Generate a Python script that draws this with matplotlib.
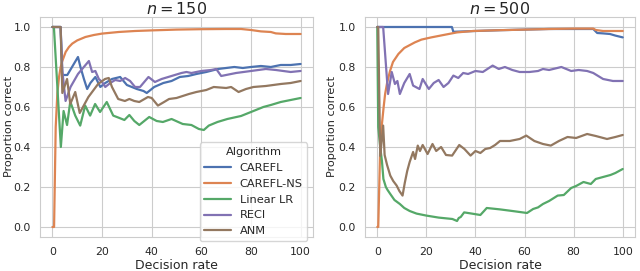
import matplotlib
matplotlib.use("Agg")
import matplotlib.pyplot as plt
import seaborn as sns

sns.set_style("whitegrid")
plt.rcParams["font.family"] = ["DejaVu Sans"]

algorithms = ["CAREFL", "CAREFL-NS", "Linear LR", "RECI", "ANM"]
colors = ["#4C72B0", "#DD8452", "#55A868", "#8172B3", "#937860"]

# ---- n = 150 ----
x_carefl_150 = [0, 3.3, 4.0, 6.0, 10.3, 11.3, 12.7, 14.0, 15.3, 17.3, 19.3, 21.3, 24.0, 27.3, 30.0, 32.0,
                34.0, 36.7, 38.0, 41.0, 44.7, 48.0, 51.3, 54.7, 58.0, 62.0, 66.7, 70.0, 73.3, 76.7, 80.0,
                84.0, 88.0, 92.0, 96.0, 100]
y_carefl_150 = [1.0, 1.0, 0.76, 0.76, 0.85, 0.80, 0.74, 0.69, 0.72, 0.75, 0.70, 0.72, 0.74, 0.75, 0.71, 0.70,
                0.69, 0.68, 0.67, 0.70, 0.72, 0.73, 0.75, 0.755, 0.765, 0.775, 0.79, 0.795, 0.80, 0.795, 0.80,
                0.805, 0.80, 0.81, 0.81, 0.815]

x_ns_150 = [0, 0.67, 1.33, 2.0, 2.67, 3.33, 4.0, 5.33, 6.67, 8.0, 10.0, 13.3, 16.7, 20.0, 26.7, 33.3, 40.0,
            50.0, 60.0, 70.0, 76.0, 80.0, 84.0, 88.0, 90.0, 94.0, 100]
y_ns_150 = [0.0, 0.0, 0.5, 0.67, 0.75, 0.80, 0.83, 0.875, 0.90, 0.917, 0.933, 0.95, 0.96, 0.967, 0.975, 0.98,
            0.983, 0.987, 0.989, 0.99, 0.99, 0.985, 0.978, 0.975, 0.968, 0.965, 0.965]

x_lin_150 = [0, 0.6, 3.4, 4.5, 5.9, 7.2, 9.2, 11.2, 13.2, 15.2, 17.2, 19.2, 21.9, 24.5, 27.0, 29.0, 31.0,
             33.0, 35.0, 37.0, 39.0, 42.0, 44.5, 48.0, 52.5, 56.0, 59.0, 61.0, 63.0, 66.5, 70.5, 76.0, 80.0,
             85.0, 88.0, 92.0, 96.0, 100]
y_lin_150 = [1.0, 1.0, 0.40, 0.58, 0.51, 0.627, 0.557, 0.507, 0.607, 0.557, 0.615, 0.575, 0.625, 0.557,
             0.545, 0.535, 0.56, 0.53, 0.51, 0.53, 0.55, 0.53, 0.525, 0.54, 0.515, 0.51, 0.49, 0.485, 0.507,
             0.525, 0.54, 0.555, 0.575, 0.60, 0.61, 0.625, 0.635, 0.645]

x_reci_150 = [0, 3.3, 4.0, 5.3, 7.3, 10.3, 14.7, 16.0, 17.3, 18.7, 20.0, 21.3, 23.3, 25.3, 27.3, 29.3, 31.3,
              33.3, 35.3, 38.7, 41.3, 44.0, 48.0, 52.0, 54.0, 56.0, 60.0, 64.0, 66.0, 68.0, 74.0, 80.0,
              86.0, 90.0, 96.0, 100]
y_reci_150 = [1.0, 1.0, 0.78, 0.63, 0.70, 0.765, 0.83, 0.775, 0.78, 0.74, 0.725, 0.70, 0.72, 0.735, 0.73,
              0.745, 0.73, 0.70, 0.70, 0.75, 0.725, 0.74, 0.755, 0.77, 0.775, 0.77, 0.78, 0.785, 0.79,
              0.755, 0.77, 0.78, 0.79, 0.785, 0.775, 0.78]

x_anm_150 = [0, 3.3, 4.0, 5.9, 7.2, 9.2, 11.0, 14.5, 18.4, 21.2, 22.7, 24.0, 26.5, 29.2, 31.0, 33.0, 35.0,
             38.5, 40.0, 42.5, 45.0, 47.0, 50.0, 55.0, 58.0, 62.0, 65.0, 70.0, 72.0, 75.0, 78.0, 81.0,
             86.0, 92.0, 96.0, 100]
y_anm_150 = [1.0, 1.0, 0.67, 0.74, 0.615, 0.675, 0.57, 0.65, 0.715, 0.74, 0.745, 0.70, 0.64, 0.63, 0.64,
             0.63, 0.625, 0.65, 0.645, 0.607, 0.625, 0.64, 0.645, 0.665, 0.675, 0.685, 0.70, 0.695, 0.70,
             0.675, 0.69, 0.70, 0.705, 0.715, 0.72, 0.73]

# ---- n = 500 ----
x_carefl_500 = [0, 30.4, 31.0, 40, 50, 60, 70, 80, 88, 89.6, 92, 94.8, 97, 100]
y_carefl_500 = [1.0, 1.0, 0.976, 0.98, 0.984, 0.987, 0.99, 0.99, 0.99, 0.97, 0.968, 0.965, 0.957, 0.948]

x_ns_500 = [0, 0.4, 1.2, 1.9, 2.6, 3.2, 4.0, 5.2, 6.4, 8.6, 11.0, 15.3, 18.0, 22.0, 27.0, 32.5, 39.0, 50.0,
            60.0, 70.0, 80.0, 88.0, 89.0, 92.0, 100]
y_ns_500 = [0.0, 0.0, 0.40, 0.515, 0.60, 0.665, 0.72, 0.78, 0.825, 0.865, 0.895, 0.923, 0.937, 0.948, 0.96,
            0.973, 0.98, 0.984, 0.987, 0.99, 0.992, 0.992, 0.985, 0.98, 0.98]

x_lin_500 = [0, 0.4, 1.2, 1.9, 2.5, 3.5, 4.2, 5.3, 7.0, 9.2, 11.0, 13.2, 16.0, 20.0, 25.0, 30.6, 32.5, 33.2,
             34.0, 35.4, 38.0, 41.0, 42.0, 43.5, 44.6, 50.0, 55.0, 61.0, 63.5, 65.5, 67.5, 70.0, 73.5,
             76.0, 79.0, 81.0, 84.0, 87.0, 89.0, 92.0, 95.0, 97.0, 100]
y_lin_500 = [1.0, 0.5, 0.40, 0.33, 0.24, 0.20, 0.185, 0.165, 0.135, 0.115, 0.095, 0.08, 0.067, 0.057, 0.047,
             0.04, 0.03, 0.045, 0.05, 0.073, 0.068, 0.062, 0.06, 0.08, 0.095, 0.088, 0.08, 0.07, 0.09,
             0.098, 0.115, 0.13, 0.157, 0.16, 0.195, 0.205, 0.225, 0.215, 0.24, 0.25, 0.26, 0.27, 0.29]

x_reci_500 = [0, 2.4, 4.4, 5.9, 7.2, 8.2, 9.2, 11.0, 13.2, 14.6, 17.2, 18.5, 21.0, 23.0, 25.0, 27.0, 29.0,
              31.0, 33.0, 35.0, 37.0, 40.0, 43.0, 47.0, 49.5, 52.0, 55.0, 58.0, 62.0, 65.5, 67.5, 70.0,
              75.0, 79.0, 82.0, 85.5, 88.0, 92.0, 96.0, 100]
y_reci_500 = [1.0, 1.0, 0.665, 0.775, 0.715, 0.73, 0.665, 0.72, 0.765, 0.707, 0.69, 0.74, 0.69, 0.72, 0.735,
              0.70, 0.72, 0.757, 0.745, 0.77, 0.765, 0.78, 0.775, 0.807, 0.79, 0.80, 0.785, 0.775, 0.775,
              0.78, 0.79, 0.785, 0.80, 0.78, 0.785, 0.78, 0.77, 0.74, 0.73, 0.73]

x_anm_500 = [0, 0.4, 1.2, 1.8, 2.4, 3.0, 4.0, 5.3, 6.5, 7.9, 9.0, 10.3, 11.2, 12.2, 13.2, 14.6, 15.4, 16.5,
             17.4, 18.5, 20.5, 22.5, 24.0, 26.0, 28.0, 30.5, 33.4, 35.5, 38.0, 40.0, 42.0, 44.0, 46.0,
             48.0, 50.0, 54.0, 58.0, 60.7, 64.0, 67.5, 70.7, 74.0, 77.5, 81.0, 85.5, 89.0, 93.6, 97.0, 100]
y_anm_500 = [1.0, 1.0, 0.355, 0.43, 0.507, 0.36, 0.31, 0.257, 0.23, 0.207, 0.18, 0.157, 0.22, 0.28, 0.325,
             0.375, 0.34, 0.407, 0.38, 0.41, 0.365, 0.415, 0.38, 0.40, 0.36, 0.357, 0.41, 0.39, 0.357, 0.38,
             0.37, 0.39, 0.395, 0.41, 0.43, 0.43, 0.44, 0.457, 0.43, 0.415, 0.407, 0.43, 0.45, 0.445, 0.465,
             0.455, 0.44, 0.45, 0.46]

panels = [
    ("$n = 150$", [(x_carefl_150, y_carefl_150), (x_ns_150, y_ns_150), (x_lin_150, y_lin_150),
                   (x_reci_150, y_reci_150), (x_anm_150, y_anm_150)]),
    ("$n = 500$", [(x_carefl_500, y_carefl_500), (x_ns_500, y_ns_500), (x_lin_500, y_lin_500),
                   (x_reci_500, y_reci_500), (x_anm_500, y_anm_500)]),
]

fig = plt.figure(figsize=(6.4, 2.71), dpi=100)
ax_pos = [[0.0625, 0.1255, 0.4266, 0.8118], [0.5703, 0.1255, 0.4219, 0.8118]]
ylabel_x = [-0.096, -0.104]

for i, (title, series) in enumerate(panels):
    ax = fig.add_axes(ax_pos[i])
    for (xs, ys), name, c in zip(series, algorithms, colors):
        ax.plot(xs, ys, color=c, lw=1.6, label=name)
    ax.set_title(title, fontsize=11.5, pad=2)
    ax.set_xlabel("Decision rate", fontsize=9, labelpad=1)
    ax.set_ylabel("Proportion correct", fontsize=8.1)
    ax.yaxis.set_label_coords(ylabel_x[i], 0.5)
    ax.set_xticks([0, 20, 40, 60, 80, 100])
    ax.set_yticks([0.0, 0.2, 0.4, 0.6, 0.8, 1.0])
    ax.tick_params(axis="x", labelsize=7.8, pad=4)
    ax.tick_params(axis="y", labelsize=7.8, pad=3)
    if i == 0:
        leg = ax.legend(title="Algorithm", loc="lower right", bbox_to_anchor=(1.0, -0.044),
                        fontsize=8.2, title_fontsize=8.2, handlelength=2.3, labelspacing=0.52,
                        borderpad=0.4, borderaxespad=0.5)

plt.savefig("out.png", dpi=100)
